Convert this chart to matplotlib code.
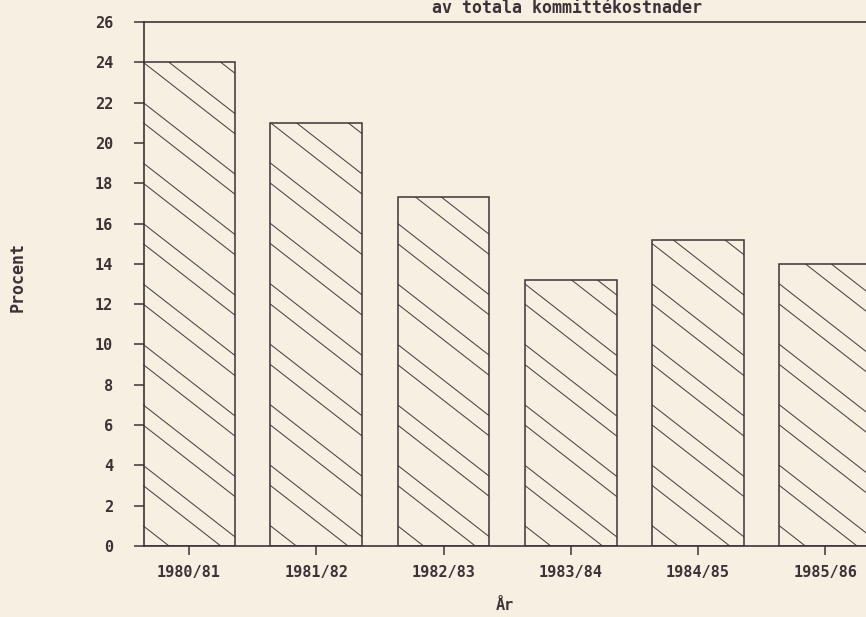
import numpy as np
from matplotlib import pyplot as plt
from matplotlib.patches import Rectangle

# data
years = ['1980/81', '1981/82', '1982/83', '1983/84', '1984/85', '1985/86']
procent = [24.0, 21.0, 17.3, 13.2, 15.2, 14.0]
y_ticks = list(range(0, 27, 2))

title = 'av totala kommittékostnader'
x_label = 'År'
y_label = 'Procent'

bg = '#f6f0e2'
ink = '#3b3337'
font = 'DejaVu Sans Mono'

fig = plt.figure(figsize=(8.66, 6.17), dpi=100, facecolor=bg)
ax = fig.add_axes([144/866, 1 - 546/617, 1 - 144/866, 524/617], facecolor=bg)

x = np.arange(len(years))
w = 0.72
bars = ax.bar(x, procent, width=w, facecolor='none', edgecolor=ink, linewidth=1.1, zorder=3)

#=====================================================
# plotter style hatching: pairs of lines, 1 unit apart, repeating every 3 units
slope = 4.92
for bar in bars:
	xl = bar.get_x()
	xr = xl + bar.get_width()
	h = bar.get_height()
	clip = Rectangle((xl, 0), bar.get_width(), h, transform=ax.transData)
	top = h + slope*bar.get_width() + 3
	for k in range(0, int(top//3) + 1):
		for y0 in [3*k, 3*k + 1]:
			ln, = ax.plot([xl, xr], [y0, y0 - slope*(xr - xl)], color='#4a4245', linewidth=0.75, zorder=2)
			ln.set_clip_path(clip)

ax.set_xlim(-0.354, 5.32)
ax.set_ylim(0, 26)
ax.set_xticks(x)
ax.set_xticklabels(years)
ax.set_yticks(y_ticks)

for s in ['left', 'bottom', 'top']:
	ax.spines[s].set_color(ink)
	ax.spines[s].set_linewidth(1.2)
ax.spines['right'].set_visible(False)

ax.tick_params(axis='y', direction='out', length=7.2, width=1.1, pad=15, color=ink)
ax.tick_params(axis='x', direction='out', length=6.5, width=1.1, pad=7, color=ink)
for lab in ax.get_xticklabels() + ax.get_yticklabels():
	lab.set_fontfamily(font)
	lab.set_fontweight('bold')
	lab.set_fontsize(11)
	lab.set_color(ink)

# axis titles placed by hand, the x one sits close to the bottom edge
fig.text(505/866, 1 - 605/617, x_label, ha='center', va='center',
		family=font, fontweight='bold', fontsize=11, color=ink)
fig.text(18/866, 1 - 277/617, y_label, rotation=90, ha='center', va='center',
		family=font, fontweight='bold', fontsize=12, color=ink)
fig.text(567/866, 1 - 8/617, title, ha='center', va='center',
		family=font, fontweight='bold', fontsize=12, color=ink)

fig.savefig('out.png', dpi=100, facecolor=bg)
